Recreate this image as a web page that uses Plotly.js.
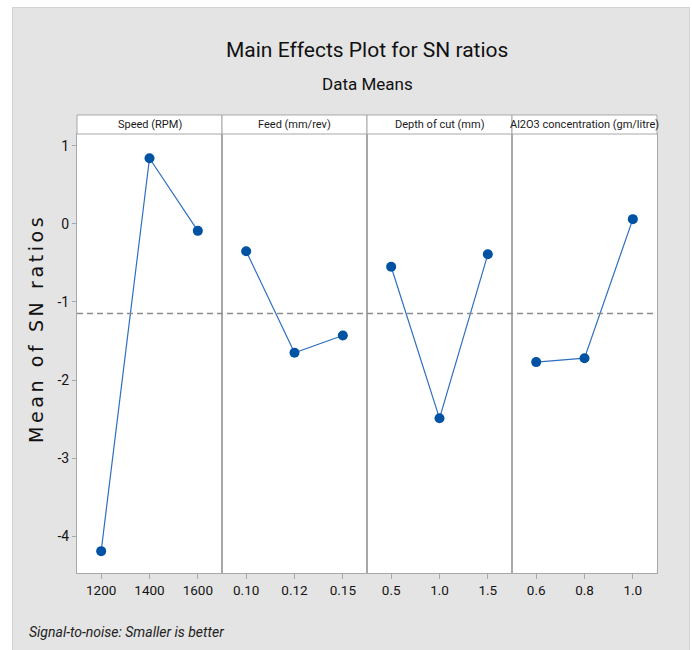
<!DOCTYPE html>
<html><head><meta charset="utf-8">
<script src="https://cdn.plot.ly/plotly-3.0.1.min.js"></script>
<style>
html,body{margin:0;padding:0;background:#fff;}
#bg{position:absolute;left:12px;top:7px;width:676px;height:643px;background:#e4e4e4;border:1px solid #d2d2d2;border-bottom:none;}
#chart{position:absolute;left:0;top:0;width:692px;height:650px;}
</style></head><body>
<div id="bg"></div><div id="chart"></div>
<script>
const factors = ["Speed (RPM)", "Feed (mm/rev)", "Depth of cut (mm)", "Al2O3 concentration (gm/litre)"];
const speedLevels = ["1200", "1400", "1600"];
const speedSN = [-4.19, 0.84, -0.09];
const feedLevels = ["0.10", "0.12", "0.15"];
const feedSN = [-0.35, -1.65, -1.43];
const depthLevels = ["0.5", "1.0", "1.5"];
const depthSN = [-0.55, -2.49, -0.39];
const alLevels = ["0.6", "0.8", "1.0"];
const alSN = [-1.77, -1.72, 0.06];
const yTicks = [1, 0, -1, -2, -3, -4];
const yTickText = ["1", "0", "-1", "-2", "-3", "-4"];

const FONT = "Roboto, 'Liberation Sans', sans-serif";
const levels = [speedLevels, feedLevels, depthLevels, alLevels];
const values = [speedSN, feedSN, depthSN, alSN];
const grandMean = speedSN.reduce((a, b) => a + b, 0) / speedSN.length;

const traces = levels.map((lv, i) => ({
  type: 'scatter', mode: 'lines+markers',
  x: lv, y: values[i],
  xaxis: i === 0 ? 'x' : 'x' + (i + 1),
  yaxis: i === 0 ? 'y' : 'y' + (i + 1),
  line: {color: '#2f6fbf', width: 1.2},
  marker: {color: '#0052a3', size: 10, symbol: 'circle'},
  showlegend: false, hoverinfo: 'x+y'
}));

const layout = {
  width: 692, height: 650,
  margin: {l: 77, r: 35, t: 134, b: 77},
  paper_bgcolor: 'rgba(0,0,0,0)',
  plot_bgcolor: '#ffffff',
  font: {family: FONT, color: '#222'},
  shapes: [], annotations: []
};
for (let i = 0; i < 4; i++) {
  const xs = i === 0 ? '' : String(i + 1);
  const d0 = i * 0.25, d1 = (i + 1) * 0.25;
  layout['xaxis' + xs] = {
    domain: [d0, d1], anchor: 'y' + xs, type: 'category', range: [-0.5, 2.5],
    showline: true, mirror: true, linecolor: '#a8a8a8', linewidth: 1,
    ticks: 'outside', ticklen: 5, tickcolor: '#a8a8a8',
    showgrid: false, zeroline: false,
    tickfont: {family: FONT, size: 13.5, color: '#141414'}
  };
  layout['yaxis' + xs] = {
    anchor: 'x' + xs, range: [-4.47, 1.15],
    showline: true, mirror: true, linecolor: '#a8a8a8', linewidth: 1,
    showgrid: false, zeroline: false,
    tickvals: yTicks, ticktext: yTickText,
    ticks: i === 0 ? 'outside' : '', ticklen: 4, tickcolor: '#a8a8a8',
    showticklabels: i === 0,
    tickfont: {family: FONT, size: 14, color: '#141414'}
  };
  if (i > 0) layout['yaxis' + xs].matches = 'y';
  layout.shapes.push({type: 'rect', xref: 'paper', yref: 'paper', x0: d0, x1: d1, y0: 1, y1: 1.0433,
    fillcolor: '#ffffff', line: {color: '#a8a8a8', width: 1}});
  layout.annotations.push({xref: 'paper', yref: 'paper', x: (d0 + d1) / 2, y: 1.0217, text: factors[i],
    showarrow: false, xanchor: 'center', yanchor: 'middle', font: {family: FONT, size: 11, color: '#1a1a1a'}});
}
layout.shapes.push({type: 'line', xref: 'paper', yref: 'y', x0: 0, x1: 1, y0: grandMean, y1: grandMean,
  line: {color: '#8c8c8c', width: 1.5, dash: '6px,4px'}});

layout.annotations.push(
  {xref: 'paper', yref: 'paper', x: 0.5, y: 1.191, text: 'Main Effects Plot for SN ratios', showarrow: false,
   xanchor: 'center', yanchor: 'middle', font: {family: FONT, size: 21, color: '#111'}},
  {xref: 'paper', yref: 'paper', x: 0.5, y: 1.114, text: 'Data Means', showarrow: false,
   xanchor: 'center', yanchor: 'middle', font: {family: FONT, size: 17, color: '#111'}},
  {xref: 'paper', yref: 'paper', x: -0.0707, y: 0.558, text: '<span style="letter-spacing:3.6px">Mean of SN ratios</span>', showarrow: false,
   textangle: -90, xanchor: 'center', yanchor: 'middle', font: {family: "'DejaVu Sans', sans-serif", size: 19, color: '#111'}},
  {xref: 'paper', yref: 'paper', x: -0.0862, y: -0.134, text: '<i>Signal-to-noise: Smaller is better</i>', showarrow: false,
   xanchor: 'left', yanchor: 'middle', font: {family: FONT, size: 14, color: '#222'}}
);

Plotly.newPlot('chart', traces, layout, {displayModeBar: false, staticPlot: true});
</script>
</body></html>
